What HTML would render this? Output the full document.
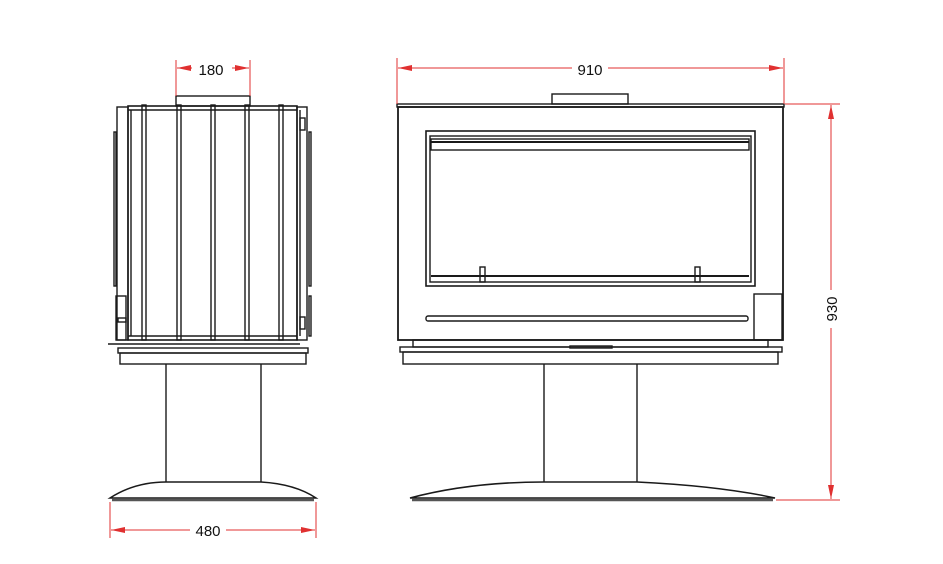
<!DOCTYPE html>
<html><head><meta charset="utf-8"><style>
html,body{margin:0;padding:0;background:#fff;}
svg{display:block;}
text{font-family:"Liberation Sans",sans-serif;font-size:15px;fill:#111;}
</style></head><body>
<svg width="943" height="564" viewBox="0 0 943 564" xmlns="http://www.w3.org/2000/svg">
<defs>
<marker id="ar" markerWidth="14" markerHeight="6" refX="14" refY="3" orient="auto" markerUnits="userSpaceOnUse">
<path d="M0,0 L14,3 L0,6 Z" fill="#e03030"/></marker>
</defs>
<g fill="none" stroke="#1a1a1a" stroke-width="1.4">
<!-- LEFT VIEW -->
<rect x="176" y="96" width="74" height="10"/>
<rect x="117" y="107" width="11" height="233"/>
<rect x="128" y="106" width="169" height="234" stroke-width="1.6"/>
<line x1="128" y1="110" x2="297" y2="110"/>
<line x1="128" y1="336" x2="297" y2="336"/>
<line x1="131" y1="110" x2="131" y2="336"/>
<rect x="142" y="105" width="4" height="235"/>
<rect x="177" y="105" width="4" height="235"/>
<rect x="211" y="105" width="4" height="235"/>
<rect x="245" y="105" width="4" height="235"/>
<rect x="279" y="105" width="4" height="235"/>
<rect x="297" y="107" width="10" height="233"/>
<line x1="300" y1="110" x2="300" y2="336"/>
<rect x="300" y="118" width="5" height="12"/>
<rect x="300" y="317" width="5" height="12"/>
<rect x="114" y="132" width="2" height="154"/>
<rect x="309" y="132" width="2" height="154"/>
<rect x="309" y="296" width="2" height="40"/>
<rect x="116" y="296" width="10" height="44"/>
<rect x="118" y="318" width="8" height="4"/>
<line x1="108" y1="344" x2="300" y2="344"/>
<rect x="118" y="348" width="190" height="5"/>
<rect x="120" y="353" width="186" height="11"/>
<line x1="166" y1="364" x2="166" y2="482"/>
<line x1="261" y1="364" x2="261" y2="482"/>
<path d="M110,498 Q135,482 166,482 L261,482 Q295,484 316,498 Z" stroke-width="1.5"/>
<line x1="112" y1="500" x2="314" y2="500" stroke="#555" stroke-width="2.5"/>
<!-- RIGHT VIEW -->
<rect x="552" y="94" width="76" height="10"/>
<rect x="397" y="104" width="387" height="3"/>
<rect x="398" y="107" width="385" height="233" stroke-width="1.8"/>
<rect x="426" y="131" width="329" height="155" stroke-width="1.6"/>
<rect x="430" y="136" width="321" height="146"/>
<rect x="431" y="139" width="318" height="11"/>
<line x1="431" y1="142" x2="749" y2="142" stroke-width="2"/>
<line x1="431" y1="276" x2="749" y2="276" stroke-width="2"/>
<rect x="480" y="267" width="5" height="15"/>
<rect x="695" y="267" width="5" height="15"/>
<rect x="426" y="316" width="322" height="5" rx="2"/>
<rect x="754" y="294" width="28" height="46"/>
<rect x="413" y="340" width="355" height="7"/>
<rect x="400" y="347" width="382" height="5"/>
<rect x="403" y="352" width="375" height="12"/>
<rect x="570" y="346" width="42" height="2" fill="#444"/>
<line x1="544" y1="364" x2="544" y2="482"/>
<line x1="637" y1="364" x2="637" y2="482"/>
<path d="M410,498 Q470,482 544,482 L637,482 Q720,486 775,498 Z" stroke-width="1.5"/>
<line x1="412" y1="500" x2="773" y2="500" stroke="#555" stroke-width="2.5"/>
</g>
<!-- DIMENSIONS -->
<g stroke="#e03030" stroke-width="1" fill="none">
<line x1="176" y1="60" x2="176" y2="96"/>
<line x1="250" y1="60" x2="250" y2="96"/>
<line x1="192" y1="68" x2="177" y2="68" marker-end="url(#ar)"/>
<line x1="232" y1="68" x2="249" y2="68" marker-end="url(#ar)"/>
<line x1="397" y1="58" x2="397" y2="104"/>
<line x1="784" y1="58" x2="784" y2="104"/>
<line x1="572" y1="68" x2="398" y2="68" marker-end="url(#ar)"/>
<line x1="608" y1="68" x2="783" y2="68" marker-end="url(#ar)"/>
<line x1="785" y1="104" x2="840" y2="104"/>
<line x1="776" y1="500" x2="840" y2="500"/>
<line x1="831" y1="290" x2="831" y2="105" marker-end="url(#ar)"/>
<line x1="831" y1="328" x2="831" y2="499" marker-end="url(#ar)"/>
<line x1="110" y1="502" x2="110" y2="538"/>
<line x1="316" y1="502" x2="316" y2="538"/>
<line x1="190" y1="530" x2="111" y2="530" marker-end="url(#ar)"/>
<line x1="226" y1="530" x2="315" y2="530" marker-end="url(#ar)"/>
</g>
<text x="211" y="75" text-anchor="middle">180</text>
<text x="590" y="75" text-anchor="middle">910</text>
<text x="208" y="536" text-anchor="middle">480</text>
<text transform="translate(837,309) rotate(-90)" text-anchor="middle">930</text>
</svg>
</body></html>
